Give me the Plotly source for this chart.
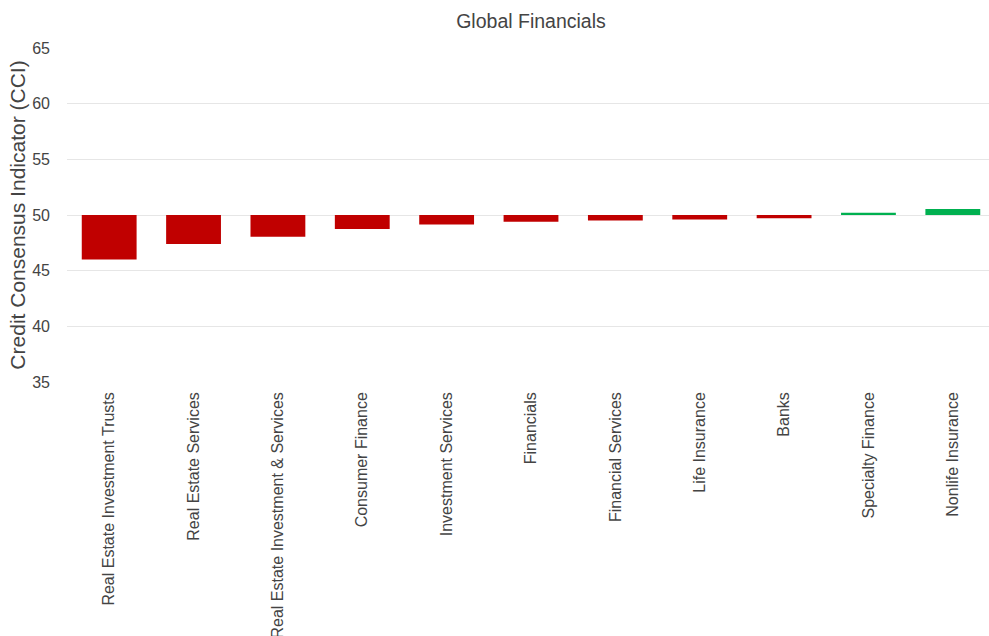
import plotly.graph_objects as go

categories = ["Real Estate Investment Trusts", "Real Estate Services",
              "Real Estate Investment & Services", "Consumer Finance",
              "Investment Services", "Financials", "Financial Services",
              "Life Insurance", "Banks", "Specialty Finance", "Nonlife Insurance"]
values = [46.0, 47.4, 48.05, 48.75, 49.15, 49.4, 49.5, 49.6, 49.7, 50.2, 50.55]
baseline = 50
red = "#C00000"
green = "#00B050"

colors = [green if v >= baseline else red for v in values]
fig = go.Figure(go.Bar(
    x=categories,
    y=[v - baseline for v in values],
    base=baseline,
    marker=dict(color=colors, line=dict(width=0)),
))
fig.update_layout(
    width=995, height=636,
    margin=dict(l=67, r=0, t=48, b=254, autoexpand=False),
    paper_bgcolor="white", plot_bgcolor="white",
    font=dict(family="Liberation Sans, Arial, sans-serif", color="#444"),
    title=dict(text="Global Financials", x=0.5, xref="paper", xanchor="center",
               y=0.967, yanchor="middle",
               font=dict(size=19.5, color="#444")),
    bargap=0.35,
    showlegend=False,
)
fig.update_yaxes(range=[35, 65], dtick=5, gridcolor="#e6e6e6", zeroline=False,
                 tickfont=dict(size=16, color="#444"), ticks="", ticklen=0,
                 ticklabelstandoff=16, automargin=False,
                 title=dict(text="Credit Consensus Indicator (CCI)", font=dict(size=21, color="#444"), standoff=0))
fig.update_xaxes(tickangle=-90, tickfont=dict(size=16, color="#444"), showgrid=False,
                 showline=False, ticks="", ticklen=0, ticklabelstandoff=6, automargin=False)
fig.write_html("out.html")
